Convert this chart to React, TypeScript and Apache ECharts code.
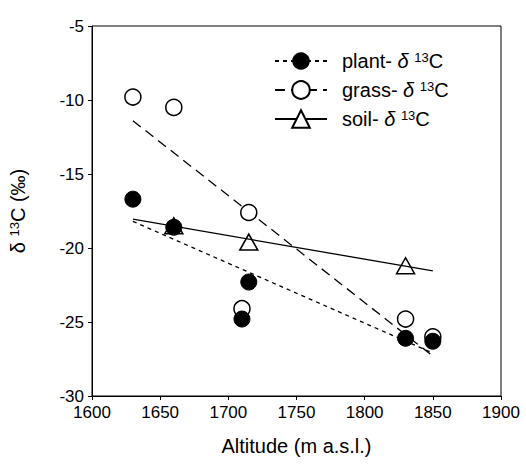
import React, { useEffect, useRef } from "react";
import * as echarts from "echarts";

const FONT = "'Liberation Sans', Arial, Helvetica, sans-serif";

const xTicks = { min: 1600, max: 1900, interval: 50 };
const yTicks = { min: -30, max: -5, interval: 5 };

// measured points
const plantPts: [number, number][] = [
  [1630, -16.7],
  [1660, -18.6],
  [1715, -22.3],
  [1710, -24.8],
  [1830, -26.1],
  [1850, -26.3],
];
const grassPts: [number, number][] = [
  [1630, -9.8],
  [1660, -10.5],
  [1715, -17.6],
  [1710, -24.1],
  [1830, -24.8],
  [1850, -26.0],
];
const soilPts: [number, number][] = [
  [1660, -18.5],
  [1715, -19.6],
  [1830, -21.2],
];

// regression lines (end points)
const plantFit: [number, number][] = [
  [1630, -18.2],
  [1850, -27.1],
];
const grassFit: [number, number][] = [
  [1630, -11.4],
  [1850, -27.3],
];
const soilFit: [number, number][] = [
  [1630, -18.05],
  [1850, -21.55],
];

const legendNames = ["plant", "grass", "soil"];

export default function App() {
  const ref = useRef<HTMLDivElement>(null);
  useEffect(() => {
    if (!ref.current) return;
    const chart = echarts.init(ref.current, null, { renderer: "svg" });
    const axisText = { color: "#000", fontSize: 17, fontFamily: FONT };
    chart.setOption({
      animation: false,
      backgroundColor: "#fff",
      grid: {
        left: 92,
        right: 25,
        top: 26,
        bottom: 75,
        show: true,
        borderColor: "#000",
        borderWidth: 1,
        backgroundColor: "transparent",
      },
      legend: {
        data: legendNames,
        orient: "vertical",
        left: 269,
        top: 46,
        itemWidth: 52,
        itemHeight: 22,
        itemGap: 9,
        selectedMode: false,
        formatter: (n: string) => `{a|${n}- }{d|δ }{s|13}{a|C}`,
        textStyle: {
          color: "#000",
          fontFamily: FONT,
          fontSize: 20,
          padding: [0, 0, 0, 10],
          rich: {
            a: { fontSize: 20, fontFamily: FONT, color: "#000" },
            d: { fontSize: 20, fontFamily: FONT, color: "#000", fontStyle: "italic" },
            s: { fontSize: 13, fontFamily: FONT, color: "#000", verticalAlign: "top", lineHeight: 13 },
          },
        },
      },
      xAxis: {
        type: "value",
        min: xTicks.min,
        max: xTicks.max,
        interval: xTicks.interval,
        name: "Altitude (m a.s.l.)",
        nameLocation: "middle",
        nameGap: 40,
        nameTextStyle: { color: "#000", fontSize: 20, fontFamily: FONT },
        axisLine: { onZero: false, lineStyle: { color: "#000", width: 1 } },
        axisTick: { inside: false, length: 4, lineStyle: { color: "#000" } },
        axisLabel: { ...axisText, margin: 8, formatter: (v: number) => String(v) },
        splitLine: { show: false },
      },
      yAxis: {
        type: "value",
        min: yTicks.min,
        max: yTicks.max,
        interval: yTicks.interval,
        name: "{a|δ }{s|13}{a|C (‰)}",
        nameLocation: "middle",
        nameGap: 64,
        nameRotate: 90,
        nameTextStyle: {
          color: "#000",
          fontSize: 20,
          fontFamily: FONT,
          rich: {
            a: { fontSize: 20, fontFamily: FONT, color: "#000" },
            s: { fontSize: 13, fontFamily: FONT, color: "#000", verticalAlign: "top", lineHeight: 13 },
          },
        },
        axisLine: { onZero: false, lineStyle: { color: "#000", width: 1 } },
        axisTick: { inside: false, length: 4, lineStyle: { color: "#000" } },
        axisLabel: { ...axisText, margin: 8, formatter: (v: number) => String(v) },
        splitLine: { show: false },
      },
      series: [
        {
          name: "plant",
          type: "line",
          data: plantFit,
          symbol: "circle",
          showSymbol: false,
          itemStyle: { color: "#000" },
          lineStyle: { color: "#000", width: 1.3, type: [4, 4] },
          z: 1,
        },
        {
          name: "grass",
          type: "line",
          data: grassFit,
          symbol: "emptyCircle",
          showSymbol: false,
          itemStyle: { color: "#000" },
          lineStyle: { color: "#000", width: 1.3, type: [10, 6] },
          z: 1,
        },
        {
          name: "soil",
          type: "line",
          data: soilFit,
          symbol: "emptyTriangle",
          showSymbol: false,
          itemStyle: { color: "#000" },
          lineStyle: { color: "#000", width: 1.3, type: "solid" },
          z: 1,
        },
        {
          name: "grass points",
          type: "scatter",
          data: grassPts,
          symbol: "circle",
          symbolSize: 16,
          itemStyle: { color: "#fff", borderColor: "#000", borderWidth: 1.5, opacity: 1 },
          z: 2,
        },
        {
          name: "plant points",
          type: "scatter",
          data: plantPts,
          symbol: "circle",
          symbolSize: 16,
          itemStyle: { color: "#000", borderColor: "#000", borderWidth: 1, opacity: 1 },
          z: 3,
        },
        {
          name: "soil points",
          type: "scatter",
          data: soilPts,
          symbol: "triangle",
          symbolSize: [18, 16],
          itemStyle: { color: "rgba(255,255,255,0)", borderColor: "#000", borderWidth: 1.5, opacity: 1 },
          z: 4,
        },
      ],
    });
    return () => chart.dispose();
  }, []);
  return (
    <div
      ref={ref}
      style={{ position: "fixed", left: 0, top: 0, width: 526, height: 471 }}
    />
  );
}
